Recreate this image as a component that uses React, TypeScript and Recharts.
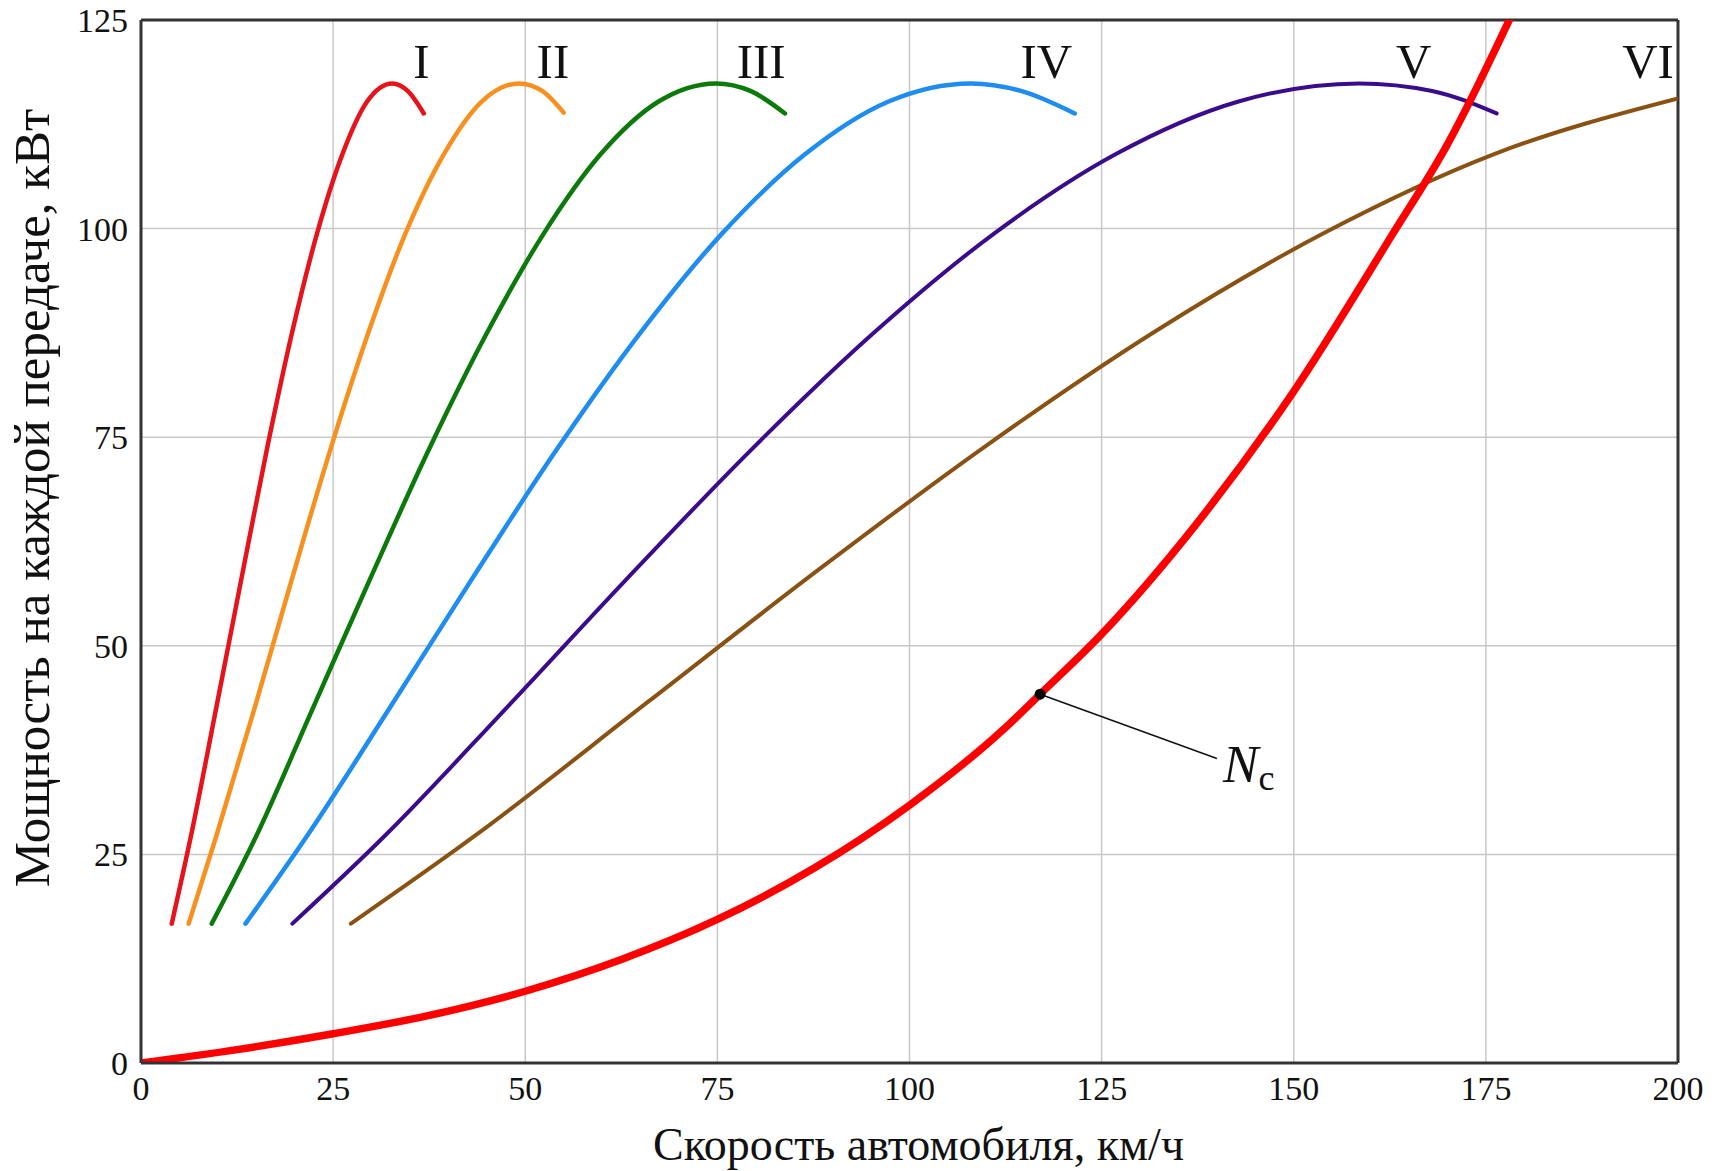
import {
  CartesianGrid,
  Line,
  LineChart,
  ReferenceDot,
  ReferenceLine,
  XAxis,
  YAxis,
} from 'recharts'

const FONT = 'Liberation Serif'

const speedTicks = [0, 25, 50, 75, 100, 125, 150, 175, 200]
const powerTicks = [0, 25, 50, 75, 100, 125]

// Мощность на передачах: скорость, км/ч и мощность, кВт
const gear1Speed = [4.0, 6.5, 9.8, 13.1, 16.35, 19.6, 22.9, 26.2, 29.4, 32.7, 34.7, 36.8]
const gear1Power = [16.7, 27.2, 42.6, 58.2, 73.4, 87.3, 99.4, 108.9, 115.2, 117.4, 116.5, 113.8]

const gear2Speed = [6.2, 9.8, 14.8, 19.7, 24.6, 29.5, 34.4, 39.4, 44.3, 49.2, 52.2, 55.0]
const gear2Power = [16.7, 27.2, 42.6, 58.2, 73.4, 87.3, 99.4, 108.9, 115.2, 117.4, 116.5, 113.9]

const gear3Speed = [9.2, 15.0, 22.4, 29.9, 37.4, 44.9, 52.4, 59.8, 67.3, 74.8, 79.3, 83.8]
const gear3Power = [16.7, 27.2, 42.6, 58.2, 73.4, 87.3, 99.4, 108.9, 115.2, 117.4, 116.5, 113.8]

const gear4Speed = [13.6, 21.6, 32.4, 43.2, 54.0, 64.8, 75.6, 86.4, 97.2, 108.0, 114.5, 121.5]
const gear4Power = [16.7, 27.2, 42.6, 58.2, 73.4, 87.3, 99.4, 108.9, 115.2, 117.4, 116.5, 113.8]

const gear5Speed = [19.7, 31.7, 47.6, 63.4, 79.3, 95.1, 111.0, 126.8, 142.7, 158.5, 168.0, 176.4]
const gear5Power = [16.7, 27.2, 42.6, 58.2, 73.4, 87.3, 99.4, 108.9, 115.2, 117.4, 116.5, 113.8]

const gear6Speed = [27.3, 44, 66, 88, 110, 132, 154, 176, 200]
const gear6Power = [16.7, 27.6, 43.3, 59.0, 74.0, 87.7, 99.5, 108.9, 115.6]

// Мощность сопротивления движению Nc
const resistSpeed = [0, 12.5, 25, 37.5, 50, 62.5, 75, 87.5, 100, 112.5, 117, 125, 137.5, 150, 162.5, 170, 178.3, 182]
const resistPower = [0, 1.6, 3.5, 5.7, 8.6, 12.4, 17.2, 23.3, 30.9, 40.2, 44.2, 51.4, 64.8, 80.5, 98.8, 110.1, 125.5, 132.9]

const gearLabels = ['I', 'II', 'III', 'IV', 'V', 'VI']
const gearLabelSpeed = [36.5, 53.6, 80.7, 117.8, 165.6, 196.1]
const gearLabelPower = 118

const gearColors = ['#e5141b', '#f7901e', '#0b7a0b', '#1e8cf0', '#3a0c8c', '#8a5212']
const gearWidths = [4.5, 4.5, 4.5, 4.5, 4, 4]

const zip = (speed: number[], power: number[]) => speed.map((v, i) => ({ v, p: power[i] }))

const gears = [
  zip(gear1Speed, gear1Power),
  zip(gear2Speed, gear2Power),
  zip(gear3Speed, gear3Power),
  zip(gear4Speed, gear4Power),
  zip(gear5Speed, gear5Power),
  zip(gear6Speed, gear6Power),
]
const resistance = zip(resistSpeed, resistPower)

// точка на кривой Nc и конец выноски
const markSpeed = 117
const markPower = 44.2
const leaderEnd = { x: 140, y: 36.5 }
const ncLabelAt = { x: 140.8, y: 33.7 }

export default function App() {
  return (
    <div className="power-chart" style={{ position: 'absolute', left: 0, top: 0, background: '#fff' }}>
      <style>{`.power-chart text { font-family: "Liberation Serif", "Times New Roman", serif; }`}</style>
      <LineChart
        width={1725}
        height={1171}
        margin={{ top: 20, right: 47, bottom: 48, left: 41 }}
      >
        <CartesianGrid stroke="#c8c8c8" strokeWidth={1.5} />
        <XAxis
          type="number"
          dataKey="v"
          domain={[0, 200]}
          ticks={speedTicks}
          allowDataOverflow
          height={60}
          stroke="#333"
          strokeWidth={3}
          tickSize={0}
          tickMargin={13}
          tick={{ fontSize: 34, fill: '#111', fontFamily: FONT }}
          label={{
            content: ({ viewBox }: any) => (
              <text
                x={viewBox.x + viewBox.width / 2 + 9}
                y={viewBox.y + 97}
                textAnchor="middle"
                fontSize={46}
                fontFamily={FONT}
                fill="#111"
              >
                Скорость автомобиля, км/ч
              </text>
            ),
          }}
        />
        <YAxis
          type="number"
          domain={[0, 125]}
          ticks={powerTicks}
          allowDataOverflow
          width={100}
          stroke="#333"
          strokeWidth={3}
          tickSize={0}
          tickMargin={13}
          tick={{ fontSize: 34, fill: '#111', fontFamily: FONT }}
          label={{
            content: () => (
              <text
                x={49}
                y={498}
                transform="rotate(-90, 49, 498)"
                textAnchor="middle"
                fontSize={51}
                fontFamily={FONT}
                fill="#111"
              >
                Мощность на каждой передаче, кВт
              </text>
            ),
          }}
        />
        <ReferenceLine y={125} stroke="#333" strokeWidth={3} />
        <ReferenceLine x={200} stroke="#333" strokeWidth={3} />

        {gears.map((data, i) => (
          <Line
            key={gearLabels[i]}
            data={data}
            dataKey="p"
            type="monotone"
            stroke={gearColors[i]}
            strokeWidth={gearWidths[i]}
            strokeLinecap="round"
            dot={false}
            activeDot={false}
            isAnimationActive={false}
          />
        ))}
        <Line
          data={resistance}
          dataKey="p"
          type="monotone"
          stroke="#ff0000"
          strokeWidth={7.5}
          strokeLinecap="round"
          dot={false}
          activeDot={false}
          isAnimationActive={false}
        />

        {gearLabels.map((label, i) => (
          <ReferenceDot
            key={label}
            x={gearLabelSpeed[i]}
            y={gearLabelPower}
            shape={({ cx, cy }: any) => (
              <text x={cx} y={cy} textAnchor="middle" fontSize={49} fontFamily={FONT} fill="#111">
                {label}
              </text>
            )}
          />
        ))}

        <ReferenceLine
          segment={[{ x: markSpeed, y: markPower }, leaderEnd]}
          stroke="#111"
          strokeWidth={1.5}
        />
        <ReferenceDot x={markSpeed} y={markPower} r={5.5} fill="#000" stroke="none" />
        <ReferenceDot
          x={ncLabelAt.x}
          y={ncLabelAt.y}
          shape={({ cx, cy }: any) => (
            <text x={cx} y={cy} fontFamily={FONT} fill="#111">
              <tspan fontSize={53} fontStyle="italic">N</tspan>
              <tspan fontSize={36} dy={8}>c</tspan>
            </text>
          )}
        />
      </LineChart>
    </div>
  )
}
